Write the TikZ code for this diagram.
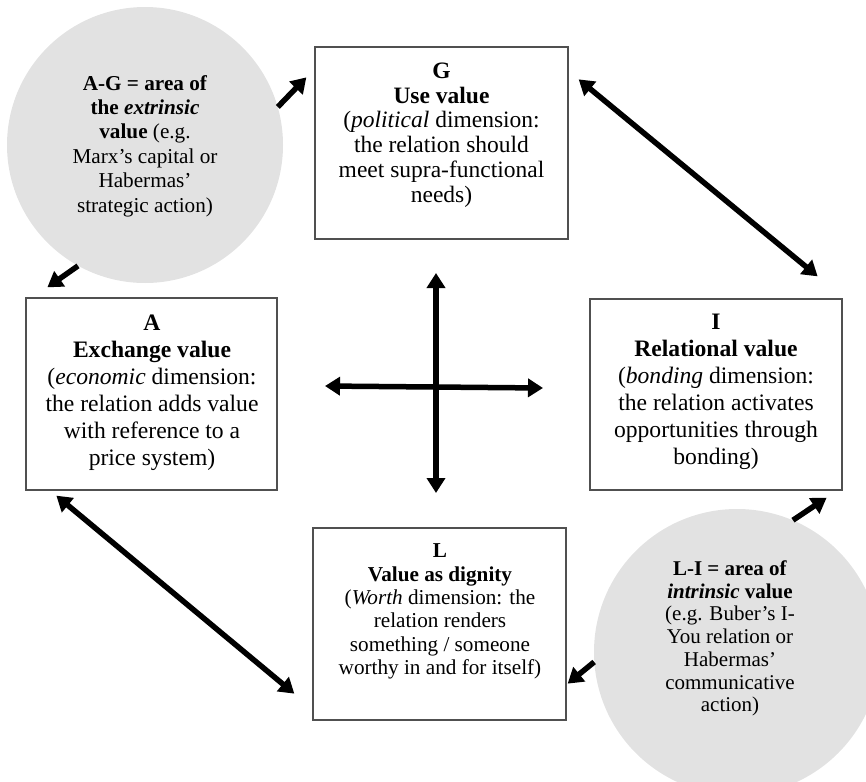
\documentclass[tikz,border=0pt]{standalone}
\usepackage{fontspec}
\setmainfont{Liberation Serif}
\usetikzlibrary{arrows.meta,calc}
\definecolor{areagray}{RGB}{226,226,226}
\definecolor{framegray}{RGB}{80,80,80}
\begin{document}
\begin{tikzpicture}[x=1pt,y=-1pt,
  valuebox/.style={draw=framegray,line width=1.3pt,minimum height=192pt,inner sep=0pt},
  boxtext/.style={align=center,inner sep=0pt},
  area/.style={circle,fill=areagray,inner sep=0pt},
  onehead/.style={line width=5.5pt,-{Triangle[length=15pt,width=18pt]}},
  twohead/.style={line width=5.5pt,{Triangle[length=15pt,width=18pt]}-{Triangle[length=15pt,width=18pt]}}
]
\useasboundingbox (0,0) rectangle (866,781);
\clip (0,0) rectangle (866,781);

% grey areas of value
\node[area,minimum size=276pt] (AG) at (145,145) {};
\node[area,minimum size=286pt] (LI) at (737,652) {};

\node[boxtext,font=\fontsize{21.2}{24.4}\selectfont] (AGt) at (145,146)
  {\textbf{A-G = area of}\\\textbf{the \textit{extrinsic}}\\\textbf{value} (e.g.\\Marx's capital or\\Habermas'\\strategic action)};
\node[boxtext,font=\fontsize{21}{22.7}\selectfont] (LIt) at (730,638.5)
  {\textbf{L-I = area of}\\\textbf{\textit{intrinsic} value}\\(e.g. Buber's I-\\You relation or\\Habermas'\\communicative\\action)};

% the four value boxes
\node[valuebox,minimum width=253pt] (G) at (441.5,143) {};
\node[boxtext,font=\fontsize{23.5}{24.8}\selectfont] (Gt) at (441.5,135)
  {\textbf{G}\\\textbf{Use value}\\(\textit{political} dimension:\\the relation should\\meet supra-functional\\needs)};

\node[valuebox,minimum width=251pt] (A) at (151.5,394) {};
\node[boxtext,font=\fontsize{23.6}{27}\selectfont] (At) at (152,392.5)
  {\textbf{A}\\\textbf{Exchange value}\\(\textit{economic} dimension:\\the relation adds value\\with reference to a\\price system)};

\node[valuebox,minimum width=252pt,minimum height=191pt] (I) at (716,394.5) {};
\node[boxtext,font=\fontsize{23.6}{27}\selectfont] (It) at (716,391.5)
  {\textbf{I}\\\textbf{Relational value}\\(\textit{bonding} dimension:\\the relation activates\\opportunities through\\bonding)};

\node[valuebox,minimum width=253pt] (L) at (439.5,624) {};
\node[boxtext,font=\fontsize{21.2}{23.4}\selectfont] (Lt) at (440,611.5)
  {\textbf{L}\\\textbf{Value as dignity}\\(\textit{Worth} dimension: the\\relation renders\\something / someone\\worthy in and for itself)};

% arrows out of the areas
\draw[onehead] (AG.16.5) -- ([shift={(-8,31)}]G.north west);
\draw[onehead] (AG.241.6) -- ([shift={(22,-10)}]A.north west);
\draw[onehead] (LI.67.2) -- ([shift={(-16,7)}]I.south east);
\draw[onehead] (LI.184.4) -- ([shift={(1,-37)}]L.south east);

% diagonal links
\draw[twohead] ([shift={(10,33)}]G.north east) -- ([shift={(-25,-22)}]I.north east);
\draw[twohead] ([shift={(31,5)}]A.south west) -- ([shift={(-18,-27)}]L.south west);

% central cross
\coordinate (vtop) at (436,273);
\coordinate (vbot) at (436,493);
\coordinate (hleft) at (325,386);
\coordinate (hright) at (543,388);
\draw[twohead] (vtop) -- (vbot);
\draw[twohead] (hleft) -- (hright);
\end{tikzpicture}
\end{document}
